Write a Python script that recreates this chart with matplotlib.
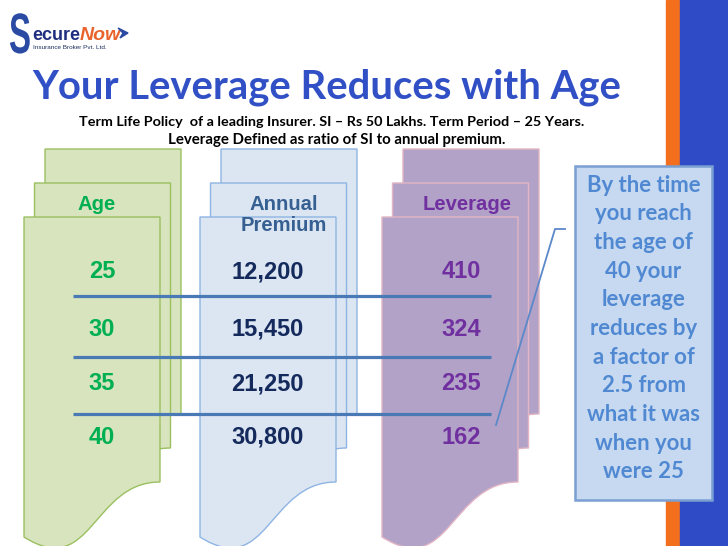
import matplotlib
matplotlib.use("Agg")
import matplotlib.pyplot as plt
from matplotlib.patches import PathPatch, Rectangle, Polygon
from matplotlib.path import Path
from matplotlib.patheffects import AbstractPathEffect
from matplotlib.transforms import Affine2D

# ---------------- data ----------------
ages = [25, 30, 35, 40]
premiums = [12200, 15450, 21250, 30800]
leverage = [410, 324, 235, 162]
headers = ["Age", "Annual\nPremium", "Leverage"]
title = "Your Leverage Reduces with Age"
subtitle1 = "Term Life Policy  of a leading Insurer. SI \u2013 Rs 50 Lakhs. Term Period \u2013 25 Years."
subtitle2 = "Leverage Defined as ratio of SI to annual premium."
callout_lines = ["By the time", "you reach", "the age of", "40 your", "leverage",
                 "reduces by", "a factor of", "2.5 from", "what it was",
                 "when you", "were 25"]

W, H = 728, 546
fig = plt.figure(figsize=(7.28, 5.46), dpi=100)
ax = fig.add_axes([0, 0, 1, 1])
ax.set_xlim(0, W)
ax.set_ylim(H, 0)
ax.axis("off")
fig.canvas.draw()
renderer = fig.canvas.get_renderer()


def fit(t, target_w):
    bb = t.get_window_extent(renderer)
    t.set_fontsize(t.get_fontsize() * target_w / bb.width)


class Squeeze(AbstractPathEffect):
    """Horizontally compress a text's glyphs about a fixed display x."""
    def __init__(self, sx, x0):
        super().__init__()
        self.sx = sx
        self.x0 = x0

    def draw_path(self, renderer, gc, tpath, affine, rgbFace=None):
        a = affine + Affine2D().translate(-self.x0, 0).scale(self.sx, 1).translate(self.x0, 0)
        renderer.draw_path(gc, tpath, a, rgbFace)


# right stripes
ax.add_patch(Rectangle((666, 0), 13.5, H, color="#F36F1E", zorder=1))
ax.add_patch(Rectangle((679.5, 0), W - 679.5, H, color="#2F4BC6", zorder=1))

# ---------------- logo ----------------
sl = ax.text(9, 53, "S", fontsize=41, fontweight="bold", color="#2B4AA3",
             family="Liberation Sans", va="baseline", ha="left", zorder=3)
sl.set_path_effects([Squeeze(0.58, 9 * fig.dpi / 100.0)])
ax.text(32, 40, "ecure", fontsize=13, fontweight="bold", color="#1F2F80",
        family="Liberation Sans", va="baseline", zorder=3)
ax.text(80, 40, "Now", fontsize=14, fontweight="bold", style="italic",
        color="#E8642C", family="Liberation Sans", va="baseline", zorder=3)
ax.add_patch(Polygon([[118, 28], [128, 33], [120, 38], [123, 33]],
                     closed=True, color="#2B4AA3", zorder=3))
ax.text(33, 49, "Insurance Broker Pvt. Ltd.", fontsize=4.6, color="#1F2F60",
        family="Liberation Sans", va="baseline", zorder=3)

# ---------------- title ----------------
t = ax.text(32, 99, title, fontsize=30, fontweight="bold", color="#3150C6",
            family="Lato", va="baseline", ha="left", zorder=3)
fit(t, 587)
s1 = ax.text(79, 126, subtitle1, fontsize=10, fontweight="bold", color="black",
             family="Lato", va="baseline", ha="left", zorder=3)
fit(s1, 507)
s2 = ax.text(168, 144, subtitle2, fontsize=10, fontweight="bold", color="black",
             family="Lato", va="baseline", ha="left", zorder=3)
fit(s2, 337)


# ---------------- multi-document shapes ----------------
def page(x0, top, w, fc, ec):
    verts = [(x0, top), (x0 + w, top), (x0 + w, top + 265),
             (x0 + 0.5 * w, top + 265), (x0 + 0.5 * w, top + 363), (x0, top + 320),
             (x0, top)]
    codes = [Path.MOVETO, Path.LINETO, Path.LINETO,
             Path.CURVE4, Path.CURVE4, Path.CURVE4, Path.CLOSEPOLY]
    ax.add_patch(PathPatch(Path(verts, codes), facecolor=fc, edgecolor=ec,
                           lw=1.0, zorder=2))


columns = [
    (24, "#D7E4BD", "#9BC060"),
    (200, "#DCE6F2", "#8EB4E3"),
    (382, "#B3A2C7", "#E2B6C4"),
]
for x0, fc, ec in columns:
    page(x0 + 21, 149, 136, fc, ec)
    page(x0 + 10.5, 183, 136, fc, ec)
    page(x0, 217, 136, fc, ec)

# headers
ax.text(96.5, 204, headers[0], fontsize=14.6, fontweight="bold", color="#00B050",
        family="Liberation Sans", ha="center", va="center", zorder=4)
ax.text(284, 215, headers[1], fontsize=14.6, fontweight="bold", color="#376092",
        family="Liberation Sans", ha="center", va="center", zorder=4,
        linespacing=1.1)
ax.text(467, 204, headers[2], fontsize=14.6, fontweight="bold", color="#7030A0",
        family="Liberation Sans", ha="center", va="center", zorder=4)

# values
row_y = [272, 329, 384, 437]
for i in range(len(ages)):
    y = row_y[i]
    ax.text(102, y, f"{ages[i]}", fontsize=17, fontweight="bold", color="#00B050",
            family="Liberation Sans", ha="center", va="center", zorder=4)
    ax.text(267.5, y, f"{premiums[i]:,}", fontsize=17, fontweight="bold",
            color="#152A5C", family="Liberation Sans", ha="center", va="center",
            zorder=4)
    ax.text(461, y, f"{leverage[i]}", fontsize=17, fontweight="bold", color="#7030A0",
            family="Liberation Sans", ha="center", va="center", zorder=4)

# separators between rows
for yl in [296, 357, 414]:
    ax.plot([73, 491], [yl, yl], color="#4A7AB5", lw=2.3, zorder=5,
            solid_capstyle="butt")

# ---------------- callout ----------------
ax.plot([496, 555, 565], [425, 229, 229], color="#5B88C8", lw=1.3, zorder=5)
ax.add_patch(Rectangle((575, 166), 137, 334, facecolor="#C6D9F1",
                       edgecolor="#7A9FD3", lw=1.8, zorder=6))
c0 = ax.text(643.5, 185, callout_lines[0], fontsize=17, fontweight="bold",
             color="#5089D2", family="Lato", ha="center", va="center", zorder=7)
fit(c0, 114)
fs = c0.get_fontsize()
for k, line in enumerate(callout_lines[1:], start=1):
    ax.text(643.5, 185 + 28.7 * k, line, fontsize=fs, fontweight="bold",
            color="#5089D2", family="Lato", ha="center", va="center", zorder=7)

fig.savefig("out.png", dpi=100)
